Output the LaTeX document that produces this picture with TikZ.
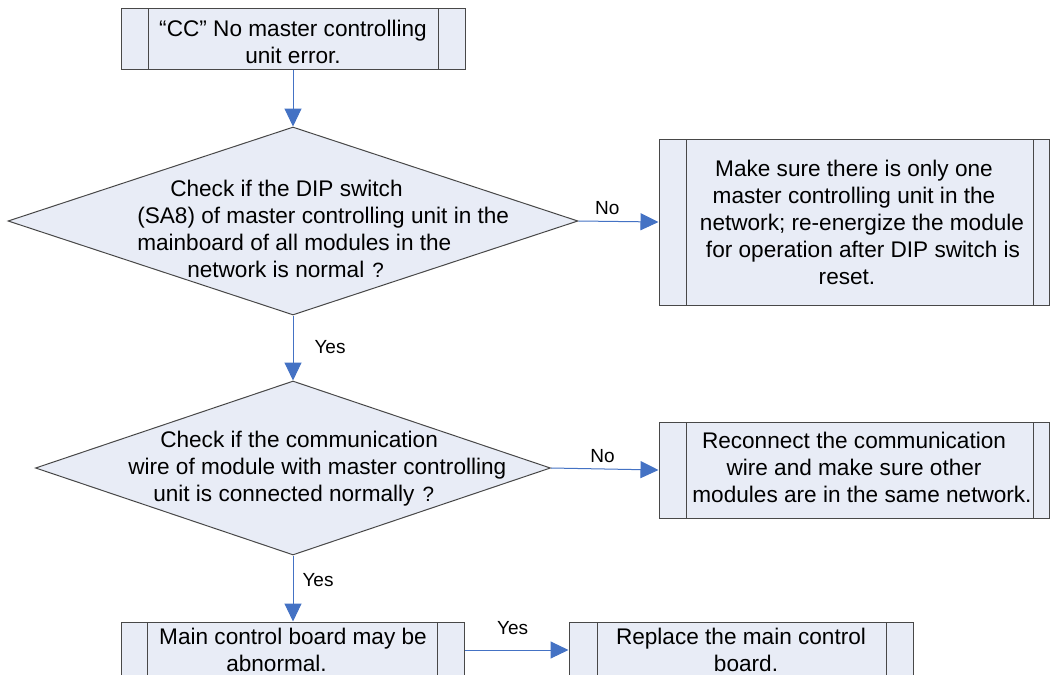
\documentclass[tikz,border=0pt]{standalone}
\usepackage{fontspec}
\setmainfont{Liberation Sans}
\usetikzlibrary{shapes.geometric,arrows.meta}
\definecolor{boxfill}{RGB}{232,236,246}
\definecolor{edgegray}{RGB}{72,72,72}
\definecolor{arrowblue}{RGB}{68,114,196}
\newcommand\dgmfont{\fontsize{16.95pt}{20.25pt}\selectfont}
\newcommand\lblfont{\fontsize{14.25pt}{17pt}\selectfont}
\newcommand\wideq{\kern6pt{\fontsize{15.5pt}{17pt}\selectfont ?}\kern3pt}
\tikzset{
  proc/.style 2 args={draw=edgegray, line width=0.75pt, fill=boxfill, rectangle,
    inner sep=0pt, align=center, font=\dgmfont,
    path picture={
      \draw[edgegray, line width=0.75pt] ([xshift=#1]path picture bounding box.north west) -- ([xshift=#1]path picture bounding box.south west);
      \draw[edgegray, line width=0.75pt] ([xshift=-#2]path picture bounding box.north east) -- ([xshift=-#2]path picture bounding box.south east);
    }},
  dia/.style={shape=diamond, draw=edgegray, line width=0.75pt, fill=boxfill, inner sep=0pt},
  dtext/.style={align=left, inner sep=0pt, font=\dgmfont, anchor=north west},
  conn/.style={draw=arrowblue, line width=0.75pt, -{Triangle[length=13.5pt,width=12.75pt]}},
  lbl/.style={font=\lblfont, inner sep=0pt, anchor=center}
}
\begin{document}
\begin{tikzpicture}[x=0.75pt,y=-0.75pt]
\useasboundingbox (0,0) rectangle (1051,675);
\fill[white] (0,0) rectangle (1051,675);
\clip (0,0) rectangle (1051,675);

% process boxes
\node[proc={20.25pt}{20.25pt}, minimum width=258pt, minimum height=45.75pt] (top) at (293,38.5)
  {\rule{0pt}{17pt}“CC” No master controlling\\unit error.};
\node[proc={20.25pt}{12pt}, minimum width=292.5pt, minimum height=124.5pt] (b1) at (854,222)
  {Make sure there is only one\\master controlling unit in the\\\hspace*{12pt}network; re-energize the module\\\hspace*{13.5pt}for operation after DIP switch is\\reset.\hspace*{10.5pt}};
\node[proc={20.25pt}{12pt}, minimum width=292.5pt, minimum height=72pt] (b2) at (854,470)
  {Reconnect the communication\\wire and make sure other\hspace*{13.5pt}\\\hspace*{12pt}modules are in the same network.\rule[-4.5pt]{0pt}{4.5pt}};
\node[proc={19.5pt}{20.25pt}, minimum width=257.25pt, minimum height=42pt] (bl) at (293,650)
  {Main control board may be\\abnormal.\hspace*{24.75pt}};
\node[proc={21pt}{20.25pt}, minimum width=258pt, minimum height=42pt] (br) at (741,650)
  {Replace the main control\\\hspace*{7.5pt}board.};

% decisions
\node[dia, minimum width=427.5pt, minimum height=141pt] (d1) at (293,221) {};
\node[dtext] (d1t) at (137,180)
  {\hspace*{24.75pt}Check if the DIP switch\\(SA8) of master controlling unit in the\\mainboard of all modules in the\\\hspace*{37.5pt}network is normal\wideq};
\node[dia, minimum width=386.25pt, minimum height=130.5pt] (d2) at (293,468) {};
\node[dtext] (d2t) at (128,430.5)
  {\hspace*{24pt}Check if the communication\\wire of module with master controlling\\\hspace*{18.75pt}unit is connected normally\wideq};

% connectors
\draw[conn] (top.south) -- (d1.north);
\draw[conn] (d1.east) -- node[lbl, pos=0.36, yshift=9.75pt] {No} (b1.west);
\draw[conn] (d1.south) -- node[lbl, pos=0.48, xshift=27.75pt] {Yes} (d2.north);
\draw[conn] (d2.east) -- node[lbl, pos=0.48, yshift=9.75pt] {No} (b2.west);
\draw[conn] (d2.south) -- node[lbl, pos=0.37, xshift=18.75pt] {Yes} (bl.north);
\draw[conn] (bl.east) -- node[lbl, pos=0.46, yshift=16.5pt] {Yes} (br.west);
\end{tikzpicture}
\end{document}
